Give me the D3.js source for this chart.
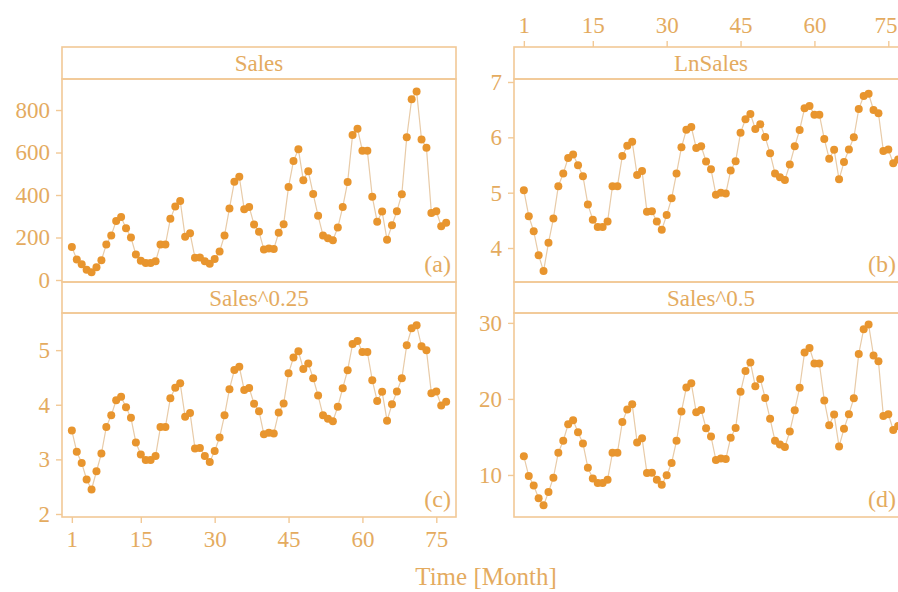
<!DOCTYPE html>
<html>
<head>
<meta charset="utf-8">
<script src="https://cdn.jsdelivr.net/npm/d3@7"></script>
<style>
  body { margin: 0; background: #fff; }
  text { font-family: "Liberation Serif", "Times New Roman", serif; }
</style>
</head>
<body>
<div id="chart"></div>
<script>

  // monthly sales (month 1..77)
  var sales = [155, 97, 74, 48, 36, 60, 93, 167, 210, 278,
               296, 244, 200, 120, 91, 80, 80, 88, 167, 167,
               288, 346, 372, 204, 220, 105, 106, 88, 76, 99,
               134, 210, 337, 462, 486, 333, 344, 261, 227, 143,
               148, 146, 222, 262, 438, 560, 615, 470, 512, 405,
               302, 210, 196, 187, 247, 343, 461, 682, 712, 608,
               608, 392, 274, 322, 189, 258, 324, 404, 672, 851,
               887, 661, 623, 315, 324, 253, 270];
  var months = d3.range(1, sales.length + 1);

  var xTicks = [1, 15, 30, 45, 60, 75];
  var panelNames = ["Sales", "LnSales", "Sales^0.25", "Sales^0.5"];
  var panelTags = ["(a)", "(b)", "(c)", "(d)"];
  var yTicks = [[0, 200, 400, 600, 800], [4, 5, 6, 7], [2, 3, 4, 5], [10, 20, 30]];
  var yLimits = [[-9.4, 946], [3.386, 7.054], [1.945, 5.68], [4.47, 31.3]];
  var transforms = [
    function(d) { return d; },
    function(d) { return Math.log(d); },
    function(d) { return Math.pow(d, 0.25); },
    function(d) { return Math.sqrt(d); }
  ];

  // layout of the 2x2 lattice
  var width = 898, height = 592;
  var colLeft = [62, 514], panelWidth = 394;
  var stripTop = [47, 282], plotTop = [79, 313], plotBottom = [282, 517];

  var frameColor = "#f2c996",
      textColor = "#e4ab5f",
      dotColor = "#e8952e",
      lineColor = "#e8cba8";

  var svg = d3.select("#chart")
    .append("svg")
      .attr("width", width)
      .attr("height", height);

  panelNames.forEach(function(name, i) {
    var col = i % 2, row = Math.floor(i / 2);
    var left = colLeft[col];

    var x = d3.scaleLinear()
      .domain([-1, 79])
      .range([left, left + panelWidth]);

    var y = d3.scaleLinear()
      .domain(yLimits[i])
      .range([plotBottom[row], plotTop[row]]);

    var values = sales.map(transforms[i]);
    var points = months.map(function(m, k) { return {m: m, v: values[k]}; });

    var g = svg.append("g");

    // strip and panel frame
    g.append("rect")
      .attr("x", left).attr("y", stripTop[row])
      .attr("width", panelWidth).attr("height", plotTop[row] - stripTop[row])
      .attr("fill", "none").attr("stroke", frameColor).attr("stroke-width", 1.6);
    g.append("rect")
      .attr("x", left).attr("y", plotTop[row])
      .attr("width", panelWidth).attr("height", plotBottom[row] - plotTop[row])
      .attr("fill", "none").attr("stroke", frameColor).attr("stroke-width", 1.6);

    g.append("text")
      .attr("x", left + panelWidth / 2)
      .attr("y", (stripTop[row] + plotTop[row]) / 2)
      .attr("dy", "0.35em")
      .attr("text-anchor", "middle")
      .style("font-size", "23px")
      .style("fill", textColor)
      .text(name);

    // y axis
    var yAxis = g.append("g")
      .attr("transform", "translate(" + left + ",0)")
      .call(d3.axisLeft(y).tickValues(yTicks[i]).tickFormat(d3.format("d"))
        .tickSize(6).tickPadding(6));
    yAxis.select(".domain").remove();
    yAxis.selectAll("line").attr("stroke", frameColor).attr("stroke-width", 1.4);
    yAxis.selectAll("text")
      .style("font-size", "23px")
      .style("font-family", "Liberation Serif")
      .attr("fill", textColor);

    // x axis: bottom on left column, top on right column
    var xAxis = null;
    if (col == 0 && row == 1) {
      xAxis = g.append("g")
        .attr("transform", "translate(0," + plotBottom[row] + ")")
        .call(d3.axisBottom(x).tickValues(xTicks).tickSize(6).tickPadding(8));
    }
    if (col == 1 && row == 0) {
      xAxis = g.append("g")
        .attr("transform", "translate(0," + stripTop[row] + ")")
        .call(d3.axisTop(x).tickValues(xTicks).tickSize(6).tickPadding(8));
    }
    if (xAxis) {
      xAxis.select(".domain").remove();
      xAxis.selectAll("line").attr("stroke", frameColor).attr("stroke-width", 1.4);
      xAxis.selectAll("text")
        .style("font-size", "23px")
        .style("font-family", "Liberation Serif")
        .attr("fill", textColor);
      // keep the last label inside the window
      xAxis.selectAll("text").each(function(d) {
        var right = x(d) + this.getBBox().width / 2;
        if (right > width - 1) d3.select(this).attr("dx", (width - 1 - right) + "px");
      });
    }

    // line and dots
    g.append("path")
      .datum(points)
      .attr("fill", "none")
      .attr("stroke", lineColor)
      .attr("stroke-width", 1.2)
      .attr("d", d3.line()
        .x(function(d) { return x(d.m); })
        .y(function(d) { return y(d.v); }));

    g.selectAll("circle")
      .data(points)
      .enter()
      .append("circle")
        .attr("cx", function(d) { return x(d.m); })
        .attr("cy", function(d) { return y(d.v); })
        .attr("r", 4)
        .style("fill", dotColor);

    // panel tag, kept inside the window on the right column
    var tagRight = Math.min(left + panelWidth - 5, width - 2);
    g.append("text")
      .attr("x", tagRight)
      .attr("y", plotBottom[row] - 10)
      .attr("text-anchor", "end")
      .style("font-size", "24px")
      .style("fill", textColor)
      .text(panelTags[i]);
  });

  svg.append("text")
    .attr("x", 486)
    .attr("y", 585)
    .attr("text-anchor", "middle")
    .style("font-size", "25px")
    .style("fill", textColor)
    .text("Time [Month]");

</script>
</body>
</html>
